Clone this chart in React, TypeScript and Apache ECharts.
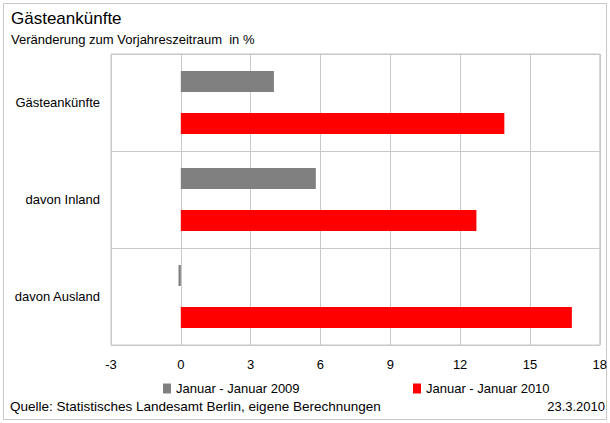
import React, { useEffect, useRef } from "react";
import * as echarts from "echarts";

const categories = ["Gästeankünfte", "davon Inland", "davon Ausland"];
const series2009 = [4.0, 5.8, -0.1];
const series2010 = [13.9, 12.7, 16.8];
const seriesNames = ["Januar - Januar 2009", "Januar - Januar 2010"];
const xTicks = { min: -3, max: 18, interval: 3 };

const FONT = "Liberation Sans, Arial, sans-serif";

export default function App() {
  const ref = useRef<HTMLDivElement>(null);
  useEffect(() => {
    if (!ref.current) return;
    const chart = echarts.init(ref.current, undefined, { renderer: "svg" });
    const legendText = { fontFamily: FONT, fontSize: 13, color: "#000" };
    chart.setOption({
      animation: false,
      backgroundColor: "#fff",
      textStyle: { fontFamily: FONT },
      title: {
        text: "Gästeankünfte",
        subtext: "Veränderung zum Vorjahreszeitraum  in %",
        left: 6,
        top: 5,
        itemGap: 6,
        textStyle: { fontFamily: FONT, fontSize: 17, fontWeight: "normal", color: "#000" },
        subtextStyle: { fontFamily: FONT, fontSize: 13, color: "#000" },
      },
      legend: [
        {
          data: [seriesNames[0]],
          left: 158,
          top: 377,
          itemWidth: 8,
          itemHeight: 10,
          itemGap: 0,
          icon: "rect",
          itemStyle: { borderWidth: 0 },
          textStyle: legendText,
        },
        {
          data: [seriesNames[1]],
          left: 408,
          top: 377,
          itemWidth: 8,
          itemHeight: 10,
          icon: "rect",
          itemStyle: { borderWidth: 0 },
          textStyle: legendText,
        },
      ],
      grid: {
        left: 111,
        right: 10,
        top: 54,
        bottom: 78,
        show: true,
        borderColor: "#c8c8c8",
        borderWidth: 1,
        containLabel: false,
      },
      xAxis: {
        type: "value",
        min: xTicks.min,
        max: xTicks.max,
        interval: xTicks.interval,
        axisLine: { show: false },
        axisTick: { show: false },
        axisLabel: { color: "#000", fontSize: 13, fontFamily: FONT, margin: 13 },
        splitLine: { show: true, lineStyle: { color: "#c8c8c8", width: 1 } },
      },
      yAxis: {
        type: "category",
        data: categories,
        inverse: true,
        axisLine: { show: false },
        axisTick: { show: false },
        axisLabel: { color: "#000", fontSize: 13, fontFamily: FONT, margin: 11 },
        splitLine: { show: true, lineStyle: { color: "#c8c8c8", width: 1 } },
      },
      series: [
        {
          name: seriesNames[0],
          type: "bar",
          data: series2009,
          barWidth: 21,
          barGap: "100%",
          itemStyle: { color: "#808080" },
        },
        {
          name: seriesNames[1],
          type: "bar",
          data: series2010,
          barWidth: 21,
          barGap: "100%",
          itemStyle: { color: "#ff0000" },
        },
      ],
      graphic: [
        {
          type: "rect",
          shape: { x: 3.5, y: 3.5, width: 603, height: 416 },
          style: { fill: "none", stroke: "#c8c8c8", lineWidth: 1 },
          silent: true,
        },
        {
          type: "text",
          left: 10,
          top: 399,
          style: {
            text: "Quelle: Statistisches Landesamt Berlin, eigene Berechnungen",
            fontFamily: FONT,
            fontSize: 13.5,
            fill: "#000",
          },
        },
        {
          type: "text",
          right: 5,
          top: 400,
          style: { text: "23.3.2010", fontFamily: FONT, fontSize: 13, fill: "#000" },
        },
      ],
    });
    return () => chart.dispose();
  }, []);
  return (
    <div
      ref={ref}
      style={{ position: "fixed", left: 0, top: 0, width: 610, height: 423 }}
    />
  );
}
